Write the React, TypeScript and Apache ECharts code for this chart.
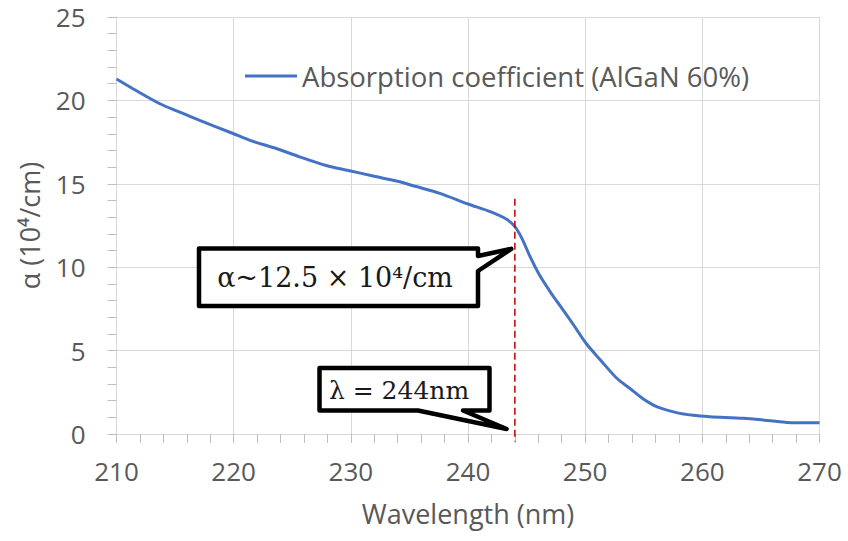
import React, { useEffect, useRef } from 'react';
import * as echarts from 'echarts';

const seriesName = 'Absorption coefficient (AlGaN 60%)';
const wavelengths = [210, 211.4, 213.7, 215.4, 217.1, 220, 221.4, 223.7, 225.7, 227.9, 229.8, 232, 234, 235.5, 237.6, 240, 241.9, 243.3, 244, 244.6, 245.3, 246.1, 247.3, 247.85, 249, 250.07, 251.3, 252.7, 253.8, 255, 256.1, 257.8, 259.2, 260.65, 263.5, 265.8, 267.8, 270];
const alpha = [21.28, 20.7, 19.8, 19.3, 18.8, 18.0, 17.6, 17.1, 16.6, 16.1, 15.8, 15.45, 15.15, 14.85, 14.43, 13.79, 13.33, 12.87, 12.43, 11.73, 10.63, 9.53, 8.23, 7.7, 6.55, 5.44, 4.44, 3.34, 2.74, 2.08, 1.64, 1.28, 1.12, 1.04, 0.94, 0.8, 0.68, 0.68];
const cutoffX = [244, 244];
const cutoffY = [14.1, -0.45];
const xTicks = { min: 210, max: 270, interval: 10 };
const yTicks = { min: 0, max: 25, interval: 5 };
const callout1Text = 'α~12.5 × 10⁴/cm';
const callout2Text = 'λ = 244nm';

const TEXT = '#595959';
const FONT = '"Open Sans", sans-serif';
const SERIF = '"DejaVu Serif", "Liberation Serif", serif';

export default function App() {
  const ref = useRef<HTMLDivElement>(null);
  useEffect(() => {
    document.body.style.margin = '0';
    const chart = echarts.init(ref.current!, null, { renderer: 'svg' });
    chart.setOption({
      animation: false,
      backgroundColor: '#fff',
      grid: { left: 116.5, right: 28.5, top: 17, bottom: 107, containLabel: false },
      legend: {
        data: [{ name: seriesName, icon: 'rect' }],
        left: 240,
        top: 57,
        itemWidth: 52,
        itemHeight: 3,
        itemGap: 4,
        textStyle: { fontFamily: FONT, fontSize: 27.5, color: TEXT },
      },
      xAxis: {
        type: 'value',
        min: xTicks.min,
        max: xTicks.max,
        interval: xTicks.interval,
        name: 'Wavelength (nm)',
        nameLocation: 'middle',
        nameGap: 66,
        nameTextStyle: { fontFamily: FONT, fontSize: 27, color: TEXT },
        axisLine: { show: true, lineStyle: { color: '#d9d9d9', width: 1 } },
        axisTick: { show: true, length: 9, lineStyle: { color: '#bfbfbf' } },
        minorTick: { show: true, splitNumber: 5, length: 9, lineStyle: { color: '#bfbfbf' } },
        axisLabel: { fontFamily: FONT, fontSize: 26, color: TEXT, margin: 24 },
        splitLine: { show: true, lineStyle: { color: '#d9d9d9', width: 1 } },
      },
      yAxis: {
        type: 'value',
        min: yTicks.min,
        max: yTicks.max,
        interval: yTicks.interval,
        name: 'α (10⁴/cm)',
        nameLocation: 'middle',
        nameGap: 74,
        nameRotate: 90,
        nameTextStyle: { fontFamily: FONT, fontSize: 27, color: TEXT },
        axisLine: { show: true, lineStyle: { color: '#d9d9d9', width: 1 } },
        axisTick: { show: true, length: 9, lineStyle: { color: '#bfbfbf' } },
        minorTick: { show: true, splitNumber: 5, length: 9, lineStyle: { color: '#bfbfbf' } },
        axisLabel: { fontFamily: FONT, fontSize: 26, color: TEXT, margin: 31 },
        splitLine: { show: true, lineStyle: { color: '#d9d9d9', width: 1 } },
      },
      series: [
        {
          name: seriesName,
          type: 'line',
          data: wavelengths.map((w, i) => [w, alpha[i]]),
          showSymbol: false,
          symbol: 'none',
          smooth: 0.3,
          lineStyle: { color: '#4472c4', width: 3 },
          itemStyle: { color: '#4472c4' },
          z: 2,
        },
        {
          name: 'cutoff',
          type: 'line',
          data: cutoffX.map((w, i) => [w, cutoffY[i]]),
          showSymbol: false,
          symbol: 'none',
          clip: false,
          silent: true,
          lineStyle: { color: '#c00000', width: 1.5, type: [7, 4] },
          z: 3,
        },
      ],
    });

    const tip1 = chart.convertToPixel({ gridIndex: 0 }, [243.7, 11.1]) as number[];
    const tip2 = chart.convertToPixel({ gridIndex: 0 }, [243.3, 0.3]) as number[];

    const boxStyle = { fill: '#fff', stroke: '#000', lineWidth: 4.5, lineJoin: 'round' };
    chart.setOption({
      graphic: [
        {
          type: 'polygon',
          z: 100,
          shape: {
            points: [
              [199, 248.5], [478, 248.5], [478, 256], [tip1[0], tip1[1]], [478, 271], [478, 306], [199, 306],
            ],
          },
          style: boxStyle,
        },
        {
          type: 'text',
          z: 101,
          x: 335,
          y: 277,
          style: { text: callout1Text, fontFamily: SERIF, fontSize: 27, fill: '#1a1a1a', align: 'center', verticalAlign: 'middle' },
        },
        {
          type: 'polygon',
          z: 100,
          shape: {
            points: [
              [319.5, 368], [489.5, 368], [489.5, 410.5], [463, 410.5], [tip2[0], tip2[1]], [418, 410.5], [319.5, 410.5],
            ],
          },
          style: boxStyle,
        },
        {
          type: 'text',
          z: 101,
          x: 399,
          y: 390,
          style: { text: callout2Text, fontFamily: SERIF, fontSize: 25, fill: '#1a1a1a', align: 'center', verticalAlign: 'middle' },
        },
      ],
    });
    return () => chart.dispose();
  }, []);
  return <div ref={ref} style={{ width: 848, height: 541 }} />;
}
